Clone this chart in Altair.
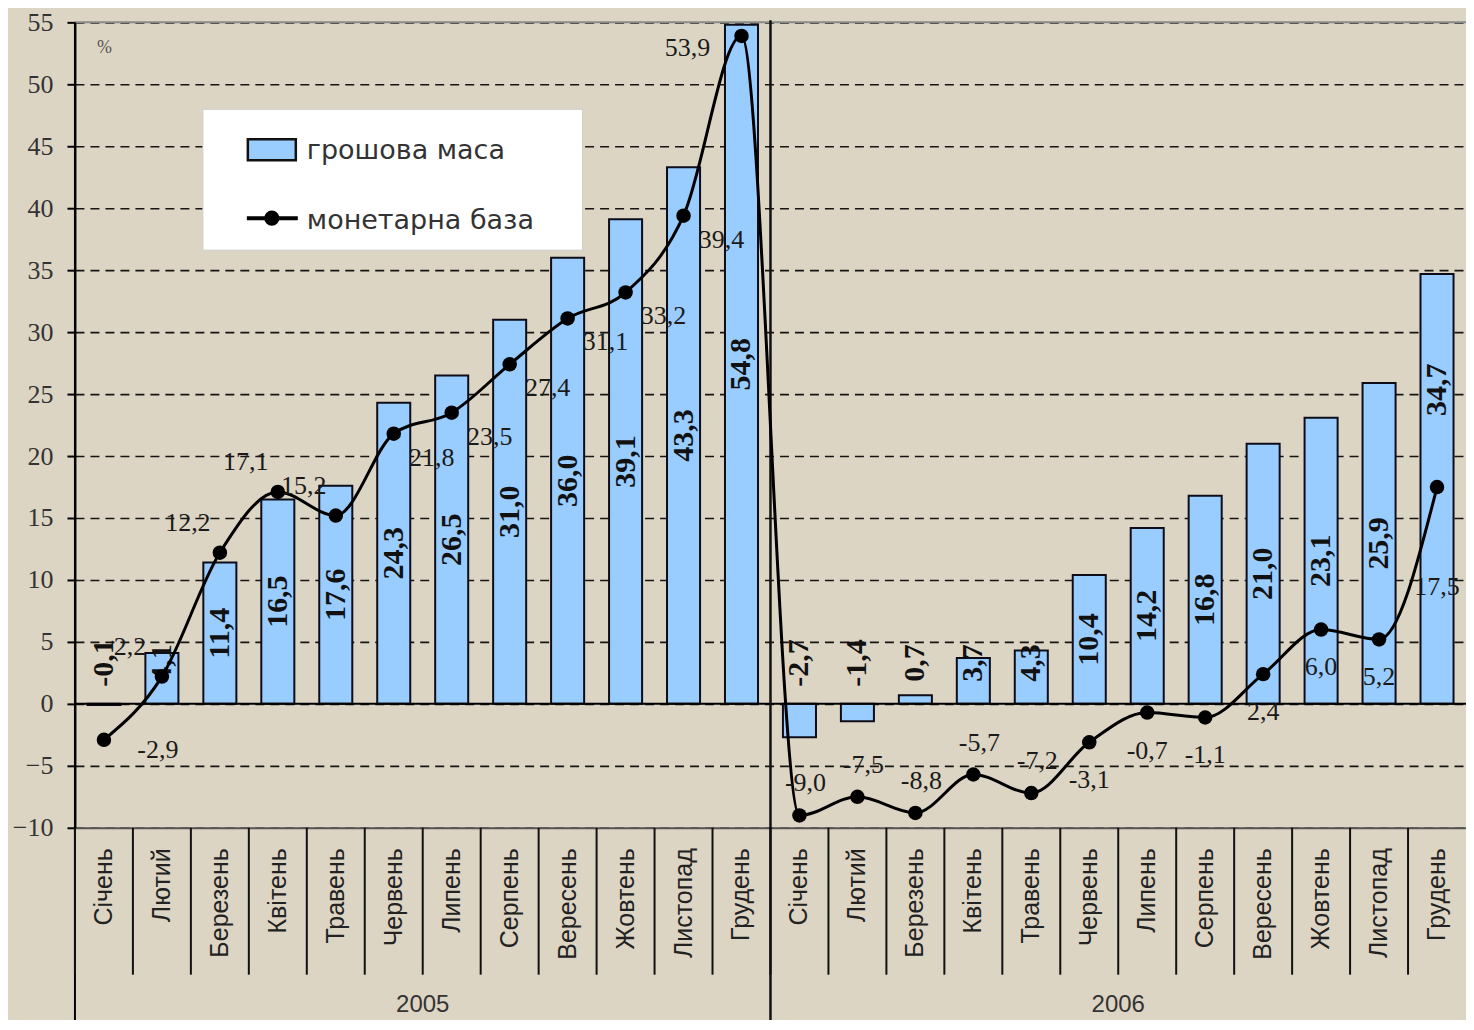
import altair as alt
import pandas as pd

months = ["Січень", "Лютий", "Березень", "Квітень", "Травень", "Червень",
          "Липень", "Серпень", "Вересень", "Жовтень", "Листопад", "Грудень"]
years = ["2005", "2006"]
money_2005 = [-0.1, 4.1, 11.4, 16.5, 17.6, 24.3, 26.5, 31.0, 36.0, 39.1, 43.3, 54.8]
money_2006 = [-2.7, -1.4, 0.7, 3.7, 4.3, 10.4, 14.2, 16.8, 21.0, 23.1, 25.9, 34.7]
base_2005 = [-2.9, 2.2, 12.2, 17.1, 15.2, 21.8, 23.5, 27.4, 31.1, 33.2, 39.4, 53.9]
base_2006 = [-9.0, -7.5, -8.8, -5.7, -7.2, -3.1, -0.7, -1.1, 2.4, 6.0, 5.2, 17.5]
legend_labels = ["грошова маса", "монетарна база"]
y_ticks = list(range(-10, 60, 5))

keys = [f"{m}|{y}" for y in years for m in months]
df = pd.DataFrame({
    "key": keys,
    "month": months * 2,
    "year": [y for y in years for _ in months],
    "idx": list(range(12)) * 2,
    "money": money_2005 + money_2006,
    "base": base_2005 + base_2006,
})

W, H = 1392, 806
BG = "#ddd5c4"
BAR_FILL = "#99ccff"
SERIF = "Liberation Serif"
SANS = "Liberation Sans"

xscale = alt.Scale(paddingInner=0, paddingOuter=0)
yscale = alt.Scale(domain=[-10, 55], nice=False, zero=False)

X_AX = alt.Axis(
    labelExpr="split(datum.label, '|')[0]", labelAngle=-90, labelPadding=20,
    labelFont=SANS, labelFontSize=25, labelColor="#222", labelLimit=300,
    ticks=False, domain=True, domainColor="#555", domainWidth=2, grid=False, title=None,
)
Y_AX = alt.Axis(
    values=y_ticks, labelFont=SERIF, labelFontSize=26, labelColor="#333",
    labelPadding=14, tickSize=8, tickColor="#000", tickWidth=2,
    domain=True, domainColor="#000", domainWidth=2,
    grid=True, gridColor="#000", gridDash=[9, 6], gridWidth=1.6, gridOpacity=0.9, title=None,
)


def xenc(**kw):
    return alt.X("key:N", sort=keys, scale=xscale, axis=X_AX, title=None, **kw)


def yenc(field):
    return alt.Y(field, scale=yscale, axis=Y_AX, title=None)


base = alt.Chart(df)
first = "datum.idx == 0 && datum.year == '2005'"

fmt = lambda f: f"(datum.{f} < 0 ? '-' : '') + replace(format(abs(datum.{f}), '.1f'), '.', ',')"

bars = base.mark_bar(
    width=alt.RelativeBandSize(0.57), fill=BAR_FILL, stroke="#0d0d1a", strokeWidth=2
).encode(x=xenc(), y=yenc("money:Q"), y2=alt.datum(0))

top_rule = base.transform_filter(first).mark_rule(color="#8a8a8a", strokeWidth=2).encode(
    y=alt.Y(datum=55, scale=yscale, axis=Y_AX, title=None)
)
zero_rule = base.transform_filter(first).mark_rule(color="#000", strokeWidth=2).encode(
    y=alt.Y(datum=0, scale=yscale, axis=Y_AX, title=None)
)
left_rule = base.transform_filter(first).mark_rule(color="#000", strokeWidth=2).encode(
    x=xenc(bandPosition=0), y=alt.value(0), y2=alt.value(H + 220)
)
year_rule = base.transform_filter("datum.idx == 0 && datum.year == '2006'").mark_rule(
    color="#111", strokeWidth=2.5
).encode(x=xenc(bandPosition=0), y=alt.value(-2), y2=alt.value(H + 220))

sep_rules = base.mark_rule(color="#111", strokeWidth=2).encode(
    x=xenc(bandPosition=0), y=alt.value(H), y2=alt.value(H + 147)
)

year_text = base.transform_filter("datum.idx == 6").mark_text(
    font=SANS, fontSize=24, color="#333", baseline="middle"
).encode(x=xenc(bandPosition=0), y=alt.value(H + 177), text="year:N")

bar_text = base.transform_calculate(
    ly="(datum.money > 20 && abs(datum.money / 2 - datum.base) < 4) ? datum.money / 2 + 8 : max(datum.money / 2, 3.3)",
    lbl=fmt("money"),
).mark_text(
    angle=270, font=SERIF, fontWeight="bold", fontSize=30, color="#111",
    align="center", baseline="middle"
).encode(x=xenc(), y=yenc("ly:Q"), text="lbl:N")

line = base.mark_line(color="#000", strokeWidth=3, interpolate="monotone").encode(
    x=xenc(), y=yenc("base:Q")
)
points = base.mark_circle(color="#000", size=210, opacity=1).encode(
    x=xenc(), y=yenc("base:Q")
)


def line_labels(filt, dx, dy):
    return base.transform_filter(filt).transform_calculate(lbl=fmt("base")).mark_text(
        font=SERIF, fontSize=26, color="#1a1a1a", align="center", baseline="middle",
        dx=dx, dy=dy
    ).encode(x=xenc(), y=yenc("base:Q"), text="lbl:N")


lab_a = line_labels("datum.year == '2005' && datum.idx >= 1 && datum.idx <= 4", -32, -30)
lab_b0 = line_labels("datum.year == '2005' && datum.idx == 0", 54, 10)
lab_b = line_labels("datum.year == '2005' && datum.idx >= 5 && datum.idx <= 10", 38, 24)
lab_c = line_labels("datum.year == '2005' && datum.idx == 11", -54, 12)
lab_d = line_labels("datum.year == '2006' && datum.base < -5", 6, -32)
lab_e = line_labels("datum.year == '2006' && datum.base >= -5 && datum.idx < 11", 0, 38)
lab_f = line_labels("datum.year == '2006' && datum.idx == 11", 0, 100)

one = pd.DataFrame({"t1": [legend_labels[0]], "t2": [legend_labels[1]], "pct": ["%"]})
leg = alt.Chart(one)
leg_box = leg.mark_rect(fill="white", stroke="#ccc", strokeWidth=1).encode(
    x=alt.value(128), x2=alt.value(508), y=alt.value(87), y2=alt.value(228)
)
leg_sw = leg.mark_rect(fill=BAR_FILL, stroke="#111", strokeWidth=2.5).encode(
    x=alt.value(173), x2=alt.value(221), y=alt.value(117), y2=alt.value(138)
)
leg_line = leg.mark_rule(color="#000", strokeWidth=4).encode(
    x=alt.value(172), x2=alt.value(223), y=alt.value(196)
)
leg_dot = leg.mark_circle(color="#000", size=230, opacity=1).encode(
    x=alt.value(197), y=alt.value(196)
)
leg_t1 = leg.mark_text(font="DejaVu Sans", fontSize=27, color="#333", align="left", baseline="middle").encode(
    x=alt.value(232), y=alt.value(129), text="t1:N"
)
leg_t2 = leg.mark_text(font="DejaVu Sans", fontSize=27, color="#333", align="left", baseline="middle").encode(
    x=alt.value(232), y=alt.value(199), text="t2:N"
)
pct = leg.mark_text(font=SERIF, fontSize=18, color="#555", align="left", baseline="middle").encode(
    x=alt.value(22), y=alt.value(26), text="pct:N"
)

chart = alt.layer(
    bars, top_rule, zero_rule, left_rule, year_rule, sep_rules, year_text,
    bar_text, line, points, lab_a, lab_b0, lab_b, lab_c, lab_d, lab_e, lab_f,
    leg_box, leg_sw, leg_line, leg_dot, leg_t1, leg_t2, pct,
).properties(
    width=W, height=H,
    autosize=alt.AutoSizeParams(type="none"),
    padding={"left": 67, "top": 14, "right": 0, "bottom": 192},
    background=BG,
).configure_view(stroke=None)

chart.save("out.html", embed_options={"renderer": "svg", "actions": False})
